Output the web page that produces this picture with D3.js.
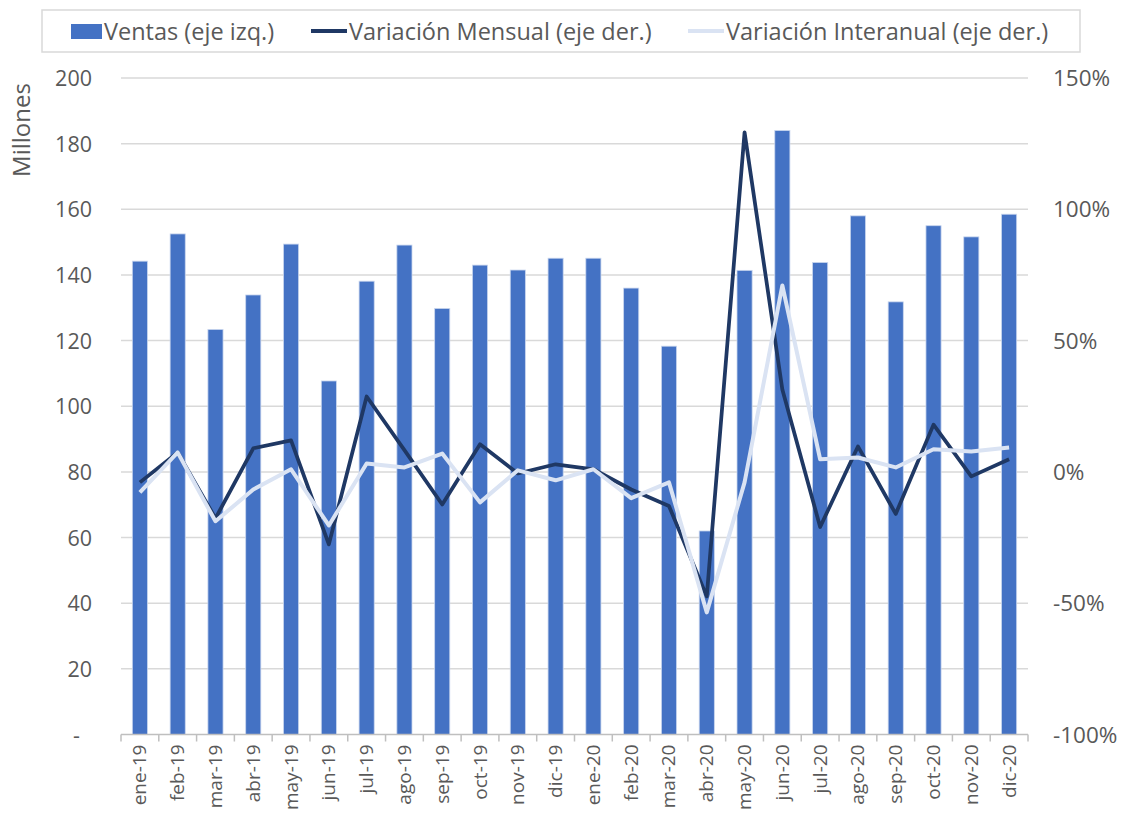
<!DOCTYPE html>
<html><head><meta charset="utf-8">
<script src="https://cdn.jsdelivr.net/npm/d3@7"></script>
<style>body{margin:0;background:#fff}svg{display:block}</style>
</head><body>
<script>
const categories = ["ene-19","feb-19","mar-19","abr-19","may-19","jun-19","jul-19","ago-19","sep-19","oct-19","nov-19","dic-19",
  "ene-20","feb-20","mar-20","abr-20","may-20","jun-20","jul-20","ago-20","sep-20","oct-20","nov-20","dic-20"];
const ventas = [144.2,152.5,123.4,133.9,149.4,107.7,138.1,149.1,129.8,143.0,141.5,145.1,
  145.1,136.0,118.3,62.0,141.4,184.0,143.8,158.0,131.8,155.0,151.6,158.5];
const varMensual = [-4.0,7.4,-17.7,9.0,12.0,-27.6,28.7,8.3,-12.4,10.5,-0.6,2.9,
  1.0,-6.7,-13.0,-47.4,129.3,31.4,-21.0,9.7,-16.0,18.0,-1.7,4.8];
const varInteranual = [-7.8,7.4,-18.8,-6.7,1.0,-20.4,3.2,1.7,7.0,-11.6,0.6,-3.2,
  1.0,-10.0,-4.0,-53.5,-4.0,71.0,4.8,5.5,1.7,8.6,7.8,9.3];
const leftTicks = [0,20,40,60,80,100,120,140,160,180,200];
const rightTicks = [-100,-50,0,50,100,150];
const seriesNames = ["Ventas (eje izq.)","Variación Mensual (eje der.)","Variación Interanual (eje der.)"];

const W=1125,H=818;
const FONT='"Open Sans","Noto Sans",sans-serif';
const svg=d3.select("body").append("svg").attr("width",W).attr("height",H)
  .style("font-family",FONT);
const x0=121,x1=1028,yTop=78,yBot=734.5;
const x=d3.scaleBand().domain(categories).range([x0,x1]).paddingInner(0.6).paddingOuter(0.3);
const xb=d3.scaleBand().domain(categories).range([x0,x1]);
const yL=d3.scaleLinear().domain([0,200]).range([yBot,yTop]);
const yR=d3.scaleLinear().domain([-100,150]).range([yBot,yTop]);
const tc="#595959";

// gridlines
svg.append("g").selectAll("line").data(leftTicks.slice(1)).join("line")
  .attr("x1",x0).attr("x2",x1).attr("y1",d=>yL(d)).attr("y2",d=>yL(d))
  .attr("stroke","#d9d9d9").attr("stroke-width",1.5);

// bars
svg.append("g").selectAll("rect").data(ventas).join("rect")
  .attr("x",(d,i)=>x(categories[i])).attr("width",x.bandwidth())
  .attr("y",d=>yL(d)).attr("height",d=>yBot-yL(d))
  .attr("fill","#4472c4").attr("stroke","#c9d6ee").attr("stroke-width",0.8);

// x axis line and ticks
const ax=svg.append("g").attr("stroke","#bfbfbf").attr("stroke-width",1.5);
ax.append("line").attr("x1",x0).attr("x2",x1).attr("y1",yBot).attr("y2",yBot);
ax.selectAll("line.t").data(categories.concat(["__end"])).join("line").attr("class","t")
  .attr("x1",(d,i)=>x0+i*xb.bandwidth()).attr("x2",(d,i)=>x0+i*xb.bandwidth())
  .attr("y1",yBot).attr("y2",yBot+7);

// x labels
svg.append("g").selectAll("text").data(categories).join("text")
  .attr("transform",d=>`translate(${xb(d)+xb.bandwidth()/2+6.5},${yBot+10}) rotate(-90)`)
  .attr("text-anchor","end").attr("font-size",19).attr("fill",tc).text(d=>d);

// left labels
svg.append("g").selectAll("text").data(leftTicks).join("text")
  .attr("x",d=>d===0?80:92).attr("y",d=>yL(d)+8)
  .attr("text-anchor","end").attr("font-size",21.5).attr("fill",tc)
  .text(d=>d===0?"-":d);
// right labels
svg.append("g").selectAll("text").data(rightTicks).join("text")
  .attr("x",1053).attr("y",d=>yR(d)+8)
  .attr("text-anchor","start").attr("font-size",22.5).attr("fill",tc)
  .text(d=>d+"%");

// y title
svg.append("text").attr("transform",`translate(30,130) rotate(-90)`)
  .attr("text-anchor","middle").attr("font-size",24).attr("fill",tc).text("Millones");

// lines
const line=d3.line().x((d,i)=>xb(categories[i])+xb.bandwidth()/2).y(d=>yR(d));
svg.append("path").datum(varMensual).attr("d",line).attr("fill","none")
  .attr("stroke","#1f3864").attr("stroke-width",3.75).attr("stroke-linejoin","round");
svg.append("path").datum(varInteranual).attr("d",line).attr("fill","none")
  .attr("stroke","#dae3f3").attr("stroke-width",4).attr("stroke-linejoin","round");

// legend
const lg=svg.append("g");
lg.append("rect").attr("x",42).attr("y",10).attr("width",1038).attr("height",42)
  .attr("fill","#fff").attr("stroke","#d9d9d9").attr("stroke-width",1.5);
lg.append("rect").attr("x",71).attr("y",24).attr("width",31).attr("height",15).attr("fill","#4472c4");
lg.append("text").attr("x",104).attr("y",40).attr("font-size",23.5).attr("fill",tc).text(seriesNames[0]);
lg.append("line").attr("x1",311).attr("x2",347).attr("y1",31).attr("y2",31).attr("stroke","#1f3864").attr("stroke-width",4);
lg.append("text").attr("x",349).attr("y",40).attr("font-size",23.5).attr("fill",tc).text(seriesNames[1]);
lg.append("line").attr("x1",688).attr("x2",724).attr("y1",31).attr("y2",31).attr("stroke","#dae3f3").attr("stroke-width",4);
lg.append("text").attr("x",726).attr("y",40).attr("font-size",23.5).attr("fill",tc).text(seriesNames[2]);
</script>
</body></html>
